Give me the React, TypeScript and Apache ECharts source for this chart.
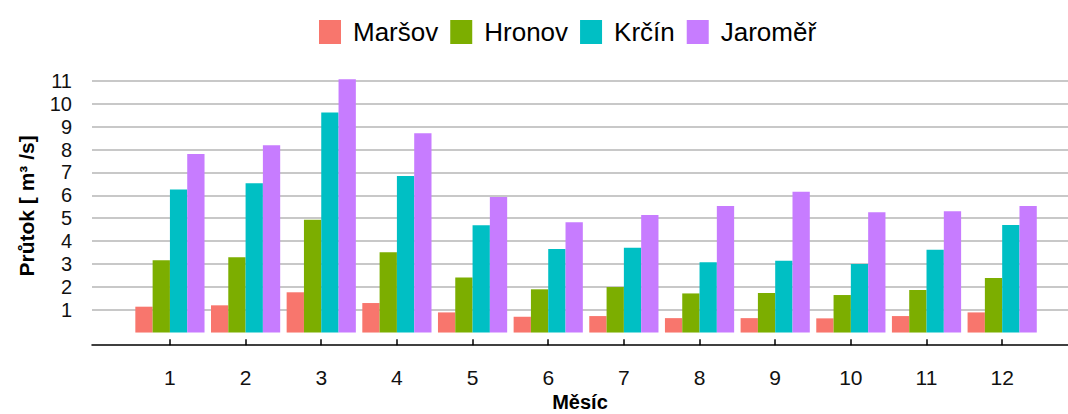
import React, { useEffect, useRef } from "react";
import * as echarts from "echarts";

const months = [1, 2, 3, 4, 5, 6, 7, 8, 9, 10, 11, 12];
const seriesNames = ["Maršov", "Hronov", "Krčín", "Jaroměř"];
const marsov = [1.13, 1.19, 1.76, 1.29, 0.88, 0.69, 0.72, 0.63, 0.63, 0.62, 0.72, 0.88];
const hronov = [3.16, 3.29, 4.93, 3.51, 2.41, 1.89, 1.99, 1.71, 1.73, 1.64, 1.86, 2.38];
const krcin = [6.26, 6.53, 9.62, 6.85, 4.69, 3.65, 3.71, 3.07, 3.14, 3.0, 3.62, 4.7];
const jaromer = [7.81, 8.19, 11.08, 8.71, 5.93, 4.82, 5.14, 5.53, 6.16, 5.26, 5.3, 5.53];
const yTicks = [1, 2, 3, 4, 5, 6, 7, 8, 9, 10, 11];
const colors = ["#F8766D", "#7CAE00", "#00BFC4", "#C77CFF"];

export default function App() {
  const ref = useRef<HTMLDivElement>(null);
  useEffect(() => {
    if (!ref.current) return;
    const chart = echarts.init(ref.current, null, { renderer: "svg" });
    const allValues = [marsov, hronov, krcin, jaromer];
    const font = "'Liberation Sans', Arial, Helvetica, sans-serif";
    chart.setOption({
      animation: false,
      color: colors,
      textStyle: { fontFamily: font },
      legend: {
        top: 14,
        left: 314,
        itemWidth: 22,
        itemHeight: 24,
        itemGap: 12,
        icon: "rect",
        textStyle: { fontSize: 26, color: "#000", fontFamily: font, padding: [0, 0, 0, 7] },
        data: seriesNames,
      },
      grid: { left: 92, right: 0, top: 66.6, bottom: 68.8, containLabel: false, outerBoundsMode: "none" },
      xAxis: {
        type: "value",
        min: -0.03,
        max: 12.87,
        name: "Měsíc",
        nameLocation: "middle",
        nameGap: 47,
        nameMoveOverlap: false,
        nameTextStyle: { fontSize: 20, fontWeight: "bold", color: "#000", fontFamily: font },
        axisLine: { show: true, onZero: false, lineStyle: { color: "#000", width: 1.5 } },
        axisTick: { show: true, inside: true, length: 6, customValues: months, lineStyle: { color: "#000", width: 1.5 } },
        axisLabel: { customValues: months, fontSize: 21, color: "#111", margin: 22, fontFamily: font, hideOverlap: false },
        splitLine: { show: false },
      },
      yAxis: {
        type: "value",
        min: -0.554,
        max: 11.63,
        name: "Průtok [ m³ /s]",
        nameLocation: "middle",
        nameGap: 55,
        nameMoveOverlap: false,
        nameTextStyle: { fontSize: 21, fontWeight: "bold", color: "#000", fontFamily: font },
        axisLine: { show: false },
        axisTick: { show: false, customValues: yTicks },
        axisLabel: {
          customValues: yTicks,
          fontSize: 20,
          lineHeight: 20,
          color: "#111",
          margin: 20,
          fontFamily: font,
          hideOverlap: false,
          showMinLabel: true,
          showMaxLabel: true,
        },
        splitLine: { show: true, lineStyle: { color: "#c8c8c8", width: 2 } },
      },
      series: seriesNames.map((name, i) => ({
        name,
        type: "bar",
        barWidth: 17.3,
        barGap: "0%",
        data: months.map((m, j) => [m, allValues[i][j]]),
        itemStyle: { color: colors[i] },
      })),
    });
    return () => chart.dispose();
  }, []);
  return <div ref={ref} style={{ width: 1068, height: 414, position: "absolute", left: 0, top: 0 }} />;
}
